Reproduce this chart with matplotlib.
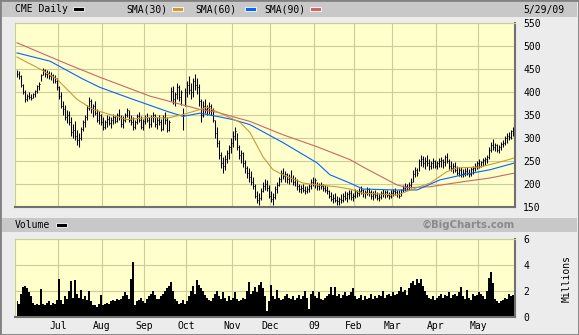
import numpy as np
import matplotlib.pyplot as plt
from matplotlib.patches import Rectangle

# daily HLC for CME, Jun 2008 - May 29 2009
highs = [448, 445, 438, 418, 405, 395, 400, 396, 398, 405,
         415, 421, 440, 452, 450, 447, 446, 444, 440, 438,
         430, 412, 400, 380, 372, 360, 358, 345, 330, 336,
         318, 310, 325, 340, 350, 372, 390, 385, 375, 380,
         362, 358, 352, 345, 340, 350, 348, 345, 352, 350,
         355, 362, 350, 348, 355, 366, 360, 350, 345, 340,
         352, 356, 348, 342, 350, 355, 345, 350, 356, 352,
         345, 350, 342, 350, 356, 345, 340, 410, 412, 400,
         420, 415, 405, 365, 408, 425, 435, 420, 430, 440,
         430, 418, 385, 380, 385, 372, 378, 375, 365, 340,
         325, 295, 270, 258, 262, 275, 285, 300, 315, 323,
         310, 285, 275, 270, 252, 240, 235, 228, 215, 200,
         185, 180, 192, 205, 210, 208, 198, 185, 180, 195,
         205, 215, 230, 235, 228, 225, 222, 230, 220, 215,
         210, 200, 198, 200, 196, 195, 200, 210, 216, 212,
         205, 202, 205, 200, 198, 195, 188, 182, 178, 180,
         175, 172, 178, 180, 185, 182, 188, 186, 180, 190,
         188, 192, 195, 190, 188, 194, 192, 186, 185, 188,
         182, 180, 185, 190, 186, 188, 182, 186, 190, 192,
         188, 186, 190, 198, 202, 200, 205, 212, 230, 237,
         235, 255, 264, 260, 258, 262, 255, 250, 256, 252,
         250, 256, 258, 255, 262, 268, 255, 250, 245, 248,
         240, 238, 236, 232, 235, 238, 232, 236, 240, 245,
         250, 255, 250, 256, 258, 262, 280, 292, 297, 290,
         288, 285, 292, 295, 305, 310, 312, 318, 323, 322]
lows = [432, 428, 410, 395, 378, 380, 384, 383, 386, 390,
        398, 405, 425, 436, 432, 430, 428, 426, 420, 420,
        405, 385, 366, 350, 340, 332, 328, 305, 300, 296,
        285, 281, 295, 315, 325, 340, 360, 355, 345, 350,
        335, 330, 328, 318, 320, 325, 328, 322, 330, 332,
        335, 340, 325, 322, 335, 345, 335, 328, 318, 320,
        330, 335, 320, 318, 330, 335, 322, 325, 335, 325,
        320, 328, 315, 318, 330, 312, 315, 380, 375, 370,
        385, 380, 372, 318, 370, 390, 395, 385, 390, 405,
        395, 370, 334, 345, 355, 350, 352, 350, 335, 300,
        281, 255, 235, 224, 230, 245, 255, 268, 280, 295,
        275, 255, 245, 237, 225, 212, 205, 198, 190, 170,
        158, 154, 165, 182, 188, 185, 170, 160, 155, 168,
        180, 195, 205, 210, 205, 202, 200, 205, 198, 195,
        188, 182, 180, 182, 178, 180, 182, 190, 195, 192,
        188, 187, 190, 185, 183, 178, 170, 162, 158, 160,
        155, 154, 158, 160, 165, 161, 168, 165, 162, 170,
        172, 175, 178, 172, 170, 176, 175, 168, 165, 170,
        165, 163, 168, 172, 170, 172, 168, 170, 174, 176,
        172, 170, 174, 182, 185, 186, 188, 192, 205, 215,
        218, 228, 240, 238, 232, 240, 231, 232, 235, 234,
        232, 236, 238, 235, 240, 245, 232, 228, 225, 226,
        220, 218, 216, 215, 218, 220, 216, 218, 222, 228,
        232, 235, 236, 240, 242, 245, 255, 270, 275, 272,
        270, 268, 275, 280, 285, 290, 295, 298, 305, 308]
closes = [440, 435, 415, 400, 385, 392, 390, 388, 395, 402,
          412, 418, 436, 448, 440, 442, 435, 438, 432, 425,
          410, 392, 370, 362, 345, 350, 335, 312, 318, 305,
          295, 300, 320, 335, 345, 365, 380, 362, 370, 355,
          340, 350, 335, 325, 335, 342, 333, 340, 345, 338,
          350, 345, 330, 340, 350, 360, 340, 335, 325, 335,
          348, 340, 325, 338, 345, 340, 330, 345, 350, 330,
          340, 335, 320, 345, 340, 318, 335, 402, 385, 395,
          410, 390, 400, 350, 400, 415, 405, 400, 425, 415,
          410, 380, 350, 370, 362, 365, 370, 360, 340, 310,
          290, 262, 245, 240, 255, 268, 280, 290, 305, 315,
          280, 262, 268, 245, 235, 225, 215, 205, 195, 175,
          165, 170, 185, 195, 200, 192, 175, 168, 172, 190,
          198, 210, 225, 218, 222, 210, 215, 212, 205, 208,
          195, 190, 192, 188, 185, 190, 195, 205, 200, 208,
          195, 198, 195, 192, 188, 185, 175, 168, 170, 165,
          162, 168, 165, 175, 170, 178, 180, 172, 175, 185,
          180, 185, 188, 180, 182, 190, 182, 175, 178, 176,
          170, 172, 180, 178, 182, 176, 174, 180, 185, 182,
          178, 175, 186, 192, 196, 194, 198, 205, 222, 230,
          225, 250, 255, 245, 250, 245, 240, 245, 250, 240,
          245, 250, 252, 248, 258, 250, 240, 235, 240, 230,
          225, 230, 222, 225, 228, 225, 222, 232, 235, 240,
          245, 240, 248, 252, 255, 258, 275, 285, 280, 285,
          275, 280, 288, 290, 300, 305, 302, 315, 318, 320]
volume = [1.2, 1.0, 1.8, 2.3, 2.4, 2.2, 1.9, 1.6, 1.1, 0.9,
          1.0, 0.95, 2.15, 1.0, 0.9, 1.1, 1.2, 0.9, 1.1, 1.0,
          1.3, 2.9, 1.3, 1.0, 1.6, 1.4, 2.0, 2.8, 1.5, 2.85,
          1.8, 1.5, 2.1, 1.4, 1.6, 1.3, 2.0, 1.2, 0.9, 0.95,
          0.8, 1.0, 1.7, 0.9, 1.0, 1.1, 1.0, 1.2, 1.3, 1.2,
          1.4, 1.3, 1.4, 1.6, 1.9, 1.7, 1.4, 2.9, 4.2, 0.9,
          1.2, 1.3, 1.5, 1.2, 1.1, 1.4, 1.6, 1.8, 2.0, 1.7,
          1.4, 1.4, 1.6, 1.8, 2.0, 2.2, 2.4, 2.7, 2.0, 1.4,
          1.2, 1.0, 1.1, 1.3, 1.0, 1.2, 1.6, 2.0, 2.4, 1.8,
          2.85, 2.5, 2.2, 2.0, 1.7, 1.5, 1.3, 1.2, 1.5, 1.8,
          2.0, 1.6, 1.4, 1.9, 1.5, 1.2, 1.6, 1.3, 1.5, 1.9,
          1.4, 1.2, 1.3, 1.5, 1.4, 2.0, 2.7, 1.8, 2.0, 2.3,
          1.9, 2.5, 2.7, 2.2, 1.6, 0.5, 1.2, 2.5, 1.6, 1.4,
          2.1, 1.5, 1.3, 1.4, 1.6, 1.8, 1.5, 1.4, 1.6, 1.3,
          1.5, 1.7, 1.4, 1.6, 2.0, 1.5, 0.6, 1.8, 2.0, 1.6,
          1.5, 1.9, 1.4, 1.3, 1.5, 1.6, 1.8, 2.3, 1.7, 2.3,
          1.6, 1.8, 1.5, 1.7, 1.9, 1.6, 1.7, 1.9, 2.2, 1.6,
          1.4, 1.5, 1.7, 1.3, 1.6, 1.4, 1.5, 1.8, 1.4, 1.6,
          1.5, 1.7, 1.6, 2.0, 1.5, 1.7, 1.8, 1.6, 1.9, 1.7,
          1.8, 2.0, 2.3, 1.9, 2.1, 1.7, 2.2, 2.6, 2.8, 2.5,
          2.9, 2.6, 2.9, 2.4, 2.0, 1.7, 1.5, 1.4, 1.6, 1.3,
          1.5, 1.6, 1.8, 1.5, 1.7, 1.6, 1.9, 1.5, 1.7, 1.8,
          1.6, 1.9, 2.3, 1.6, 1.4, 2.1, 1.5, 1.3, 1.8, 1.6,
          1.7, 1.9, 1.8, 1.6, 1.4, 2.0, 3.0, 3.5, 2.6, 1.4,
          1.2, 1.1, 1.2, 1.3, 1.5, 1.4, 1.8, 1.6, 1.7, 1.6]

# moving averages, read at a few points (trading-day index, price)
sma30_day = [0, 11.5, 20, 30, 38, 46.5, 55, 66.5, 75, 83, 91.5, 95, 103, 111.5,
             116.5, 123, 128, 133, 143, 150, 160, 166.5, 173, 190, 198, 206.5,
             215, 220, 231.5, 240, 249]
sma30_val = [476, 450, 428, 384, 362, 351, 340, 345, 343, 351, 362, 367, 351, 334,
             312, 259, 231, 220, 202, 198, 194, 189, 180, 176, 189, 202,
             227, 235, 237, 246, 257]
sma60_day = [0, 16.5, 33, 41.5, 58, 75, 83, 91.5, 100, 108, 116.5, 133, 150,
             156.5, 166.5, 173, 190, 200, 211.5, 223, 236.5, 249]
sma60_val = [485, 467, 428, 410, 384, 358, 347, 354, 347, 340, 329, 290, 246,
             220, 202, 189, 187, 187, 209, 220, 231, 246]
sma90_day = [0, 25, 41.5, 66.5, 91.5, 100, 116.5, 133, 150, 166.5, 173, 190,
             195, 206.5, 223, 236.5, 249]
sma90_val = [507, 461, 432, 391, 362, 356, 336, 307, 281, 253, 237, 198,
             192, 194, 205, 213, 224]

month_start = [21, 43, 64, 85, 108, 127, 149, 169, 188, 210, 231]
month_labels = ['Jul', 'Aug', 'Sep', 'Oct', 'Nov', 'Dec', '09', 'Feb', 'Mar', 'Apr', 'May']

W, H = 579, 335
bg = '#ececec'
plotbg = '#ffffcc'
gridc = '#cccc99'
mono = 'DejaVu Sans Mono'


def fx(x):
    return x / W


def fy(y):
    return 1 - y / H


fig = plt.figure(figsize=(W / 100, H / 100), dpi=100, facecolor=bg)

# outer frame and the two grey title strips
fig.add_artist(Rectangle((0, 0), 1, 1, transform=fig.transFigure, fill=False,
                         edgecolor='#808080', lw=2))
fig.add_artist(Rectangle((fx(2), fy(17)), fx(575), 15 / H, transform=fig.transFigure,
                         facecolor='#c8c8c8', edgecolor='none'))
fig.add_artist(Rectangle((fx(2), fy(232)), fx(575), 14 / H, transform=fig.transFigure,
                         facecolor='#c8c8c8', edgecolor='none'))

fs = 7.0
fig.text(fx(15), fy(9.5), 'CME Daily', family=mono, fontsize=fs, va='center')
fig.text(fx(126), fy(9.5), 'SMA(30)', family=mono, fontsize=fs, va='center')
fig.text(fx(195), fy(9.5), 'SMA(60)', family=mono, fontsize=fs, va='center')
fig.text(fx(264), fy(9.5), 'SMA(90)', family=mono, fontsize=fs, va='center')
fig.text(fx(523), fy(9.5), '5/29/09', family=mono, fontsize=fs, va='center')
for x0, c in [(73, 'black'), (172, '#cc9933'), (245, '#0066ff'), (310, '#cc6666')]:
    fig.add_artist(Rectangle((fx(x0), fy(11)), 11 / W, 4 / H, transform=fig.transFigure,
                             facecolor=c, edgecolor='white', lw=0.6))

fig.text(fx(15), fy(225), 'Volume', family=mono, fontsize=fs, va='center')
fig.add_artist(Rectangle((fx(56), fy(227)), 11 / W, 4 / H, transform=fig.transFigure,
                         facecolor='black', edgecolor='white', lw=0.6))
fig.text(fx(515), fy(225), '\u00a9BigCharts.com', family='DejaVu Sans', fontweight='bold',
         fontsize=7.3, color='#8a8a8a', ha='right', va='center')

days = np.arange(len(closes))
grid_x = np.array(month_start) - 0.5

# price panel
ax = fig.add_axes([fx(15), fy(207), 500 / W, 184 / H])
ax.set_facecolor(plotbg)
ax.set_xlim(-1, 249)
ax.set_ylim(150, 550)
ax.set_xticks(grid_x)
ax.set_yticks(np.arange(150, 551, 50))
ax.grid(color=gridc, lw=0.8)
ax.set_axisbelow(True)
ax.vlines(days, lows, highs, color='black', lw=0.75)
ax.hlines(closes, days, days + 0.6, color='black', lw=0.75)
ax.plot(sma90_day, sma90_val, color='#cc6666', lw=0.8)
ax.plot(sma60_day, sma60_val, color='#0066ff', lw=0.8)
ax.plot(sma30_day, sma30_val, color='#cc9933', lw=0.8)
ax.yaxis.tick_right()
ax.tick_params(length=0, labelsize=fs, pad=6, labelbottom=False)
for lab in ax.get_yticklabels():
    lab.set_family(mono)

# volume panel
ax2 = fig.add_axes([fx(15), fy(317), 500 / W, 78 / H])
ax2.set_facecolor(plotbg)
ax2.set_xlim(-1, 249)
ax2.set_ylim(0, 6)
ax2.set_xticks(grid_x)
ax2.set_xticklabels(month_labels)
ax2.set_yticks([0, 2, 4, 6])
ax2.grid(color=gridc, lw=0.8)
ax2.set_axisbelow(True)
ax2.fill_between(days, volume, step='mid', color='black', lw=0)
ax2.yaxis.tick_right()
ax2.tick_params(length=0, labelsize=fs, pad=6)
ax2.tick_params(axis='x', pad=3)
for lab in ax2.get_xticklabels() + ax2.get_yticklabels():
    lab.set_family(mono)
fig.text(fx(567), fy(278), 'Millions', family=mono, fontsize=fs, rotation=90,
         ha='center', va='center')

for a in (ax, ax2):
    a.spines['top'].set_color(gridc)
    a.spines['left'].set_color(gridc)
    a.spines['bottom'].set_color('#707070')
    a.spines['right'].set_color('#707070')
    a.spines['bottom'].set_linewidth(1.5)
    a.spines['right'].set_linewidth(1.5)

fig.savefig('out.png', dpi=100, facecolor=bg)
